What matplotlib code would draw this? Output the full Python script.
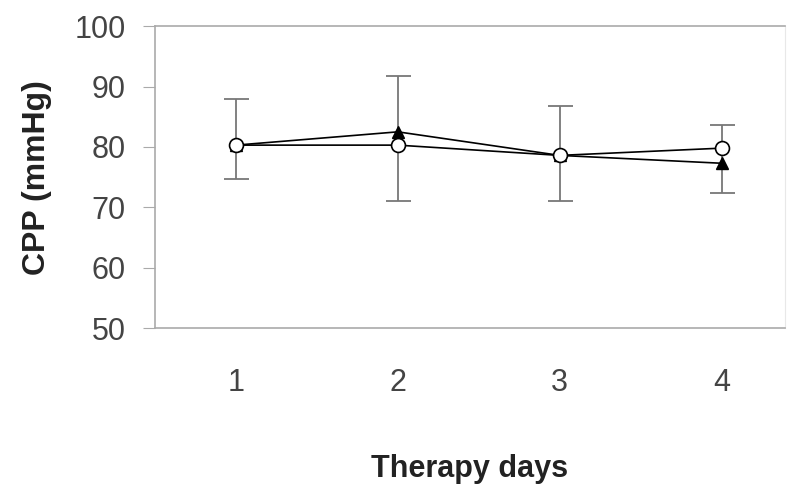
import numpy as np
import matplotlib.pyplot as plt

plt.rcParams['font.family'] = ['Liberation Sans', 'DejaVu Sans']

days = [1, 2, 3, 4]
cpp_triangle = [80.3, 82.5, 78.6, 77.3]
cpp_circle = [80.3, 80.3, 78.6, 79.8]
err_upper = [87.9, 91.7, 86.8, 83.6]
err_lower = [74.7, 71.0, 71.0, 72.3]

fig = plt.figure(figsize=(7.95, 4.84), dpi=100)
ax = fig.add_axes([0.195, 0.322, 0.792, 0.624])

circ = np.array(cpp_circle)
yerr = [circ - np.array(err_lower), np.array(err_upper) - circ]
ax.errorbar(days, circ, yerr=yerr, fmt='none', ecolor='#777777',
            elinewidth=1.3, capsize=9, capthick=1.3, zorder=1)

ax.plot(days, cpp_triangle, color='black', lw=1.2, marker='^', ms=9,
        mfc='black', mec='black', zorder=2)
ax.plot(days, cpp_circle, color='black', lw=1.2, marker='o', ms=10,
        mfc='white', mec='black', mew=1.2, zorder=3)

ax.set_xlim(0.5, 4.39)
ax.set_ylim(50, 100)
ax.set_yticks(range(50, 101, 10))
ax.set_xticks(days)

for s in ['left', 'top', 'bottom']:
    ax.spines[s].set_color('#aaaaaa')
    ax.spines[s].set_linewidth(1.2)
ax.spines['right'].set_color('#e8e8e8')

ax.tick_params(axis='y', direction='out', length=9, color='#aaaaaa',
               labelsize=22, labelcolor='#444444', pad=12)
ax.tick_params(axis='x', length=0, labelsize=22, labelcolor='#444444', pad=29)

ax.set_ylabel('CPP (mmHg)', fontsize=23, fontweight='bold', color='#222222', labelpad=16)
ax.set_xlabel('Therapy days', fontsize=22, fontweight='bold', color='#222222', labelpad=40)

fig.savefig('out.png', dpi=100)
